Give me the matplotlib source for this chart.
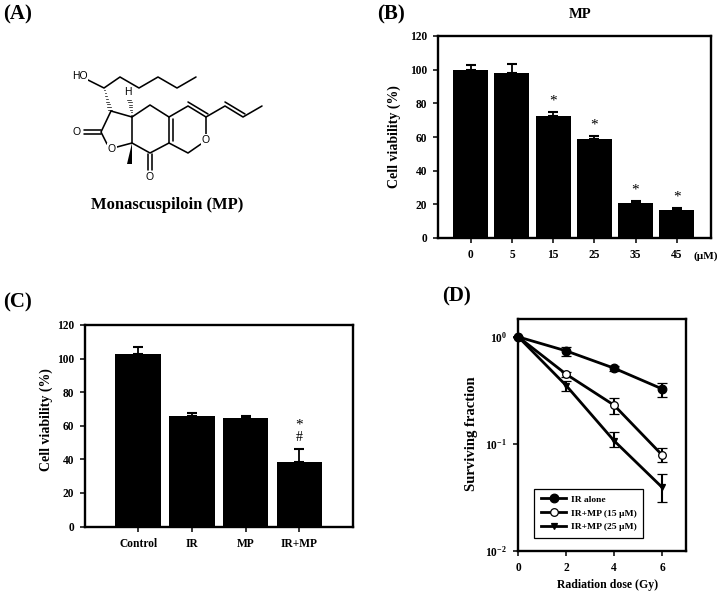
"""Four panel figure: structure of monascuspiloin, two viability bar charts, survival curves."""
import numpy as np
import matplotlib
matplotlib.use("Agg")
import matplotlib.pyplot as plt
from matplotlib.patches import Polygon

W, H = 724, 595

plt.rcParams["font.family"] = ["Liberation Serif", "DejaVu Serif"]
plt.rcParams["font.weight"] = "bold"
plt.rcParams["axes.labelweight"] = "bold"
plt.rcParams["mathtext.fontset"] = "custom"
plt.rcParams["mathtext.rm"] = "Liberation Serif:bold"
plt.rcParams["mathtext.bf"] = "Liberation Serif:bold"
plt.rcParams["mathtext.default"] = "regular"

# panel B
dose_labels = ["0", "5", "15", "25", "35", "45"]
dose_values = [99.8, 98.0, 72.3, 59.0, 20.7, 16.6]
dose_errors = [2.8, 5.4, 2.6, 1.7, 1.0, 1.2]
dose_stars = ["", "", "*", "*", "*", "*"]

# panel C
treat_labels = ["Control", "IR", "MP", "IR+MP"]
treat_values = [102.8, 66.0, 64.7, 38.5]
treat_errors = [4.3, 1.7, 1.3, 7.7]

# panel D
rad_dose = [0, 2, 4, 6]
ir_alone = [1.0, 0.74, 0.51, 0.327]
ir_alone_lo = [1.0, 0.67, 0.48, 0.277]
ir_alone_hi = [1.0, 0.80, 0.54, 0.37]
ir_mp15 = [1.0, 0.448, 0.23, 0.079]
ir_mp15_lo = [1.0, 0.425, 0.19, 0.0674]
ir_mp15_hi = [1.0, 0.47, 0.267, 0.091]
ir_mp25 = [1.0, 0.351, 0.107, 0.0394]
ir_mp25_lo = [1.0, 0.31, 0.0944, 0.0285]
ir_mp25_hi = [1.0, 0.39, 0.128, 0.052]

# structure in panel A, traced in image pixels
skeleton = [
    [(88, 80), (104, 88), (120, 77), (139, 88), (158, 77), (177, 88), (196, 77)],
    [(111, 111), (132, 117), (132, 143), (117, 147)],
    [(111, 111), (101, 132), (107, 144)],
    [(132, 117), (150, 105), (169, 117), (169, 143), (150, 153), (132, 143)],
    [(169, 117), (188, 106), (206, 117), (206, 134)],
    [(201, 144), (188, 153), (169, 143)],
    [(206, 117), (225, 106), (243, 117), (262, 106)],
]
double_bonds = [
    [(101, 130), (84, 130)], [(101, 134), (84, 134)],
    [(148, 154), (148, 170)], [(152, 154), (152, 170)],
    [(173, 119), (173, 141)],
    [(188, 102), (208, 114)],
    [(225, 102), (245, 114)],
]
atom_labels = [(80, 76, "HO"), (128, 92, "H"), (77, 132, "O"), (112, 149, "O"),
               (150, 177, "O"), (206, 140, "O")]
hash_bonds = [((104, 88), (110, 110)), ((132, 117), (129, 97))]
methyl_wedge = [(132, 143), (127, 164), (132, 164)]


def add_axes_px(fig, left, top, right, bottom):
    return fig.add_axes([left / W, 1 - bottom / H, (right - left) / W, (bottom - top) / H])


def style_axes(ax):
    for s in ax.spines.values():
        s.set_linewidth(1.7)
    ax.tick_params(width=1.1, length=3.5, labelsize=8.3, pad=4.5)


def draw_bars(ax, labels, values, errors):
    x = np.arange(len(labels))
    ax.bar(x, values, width=0.85, color="black", zorder=2)
    ax.errorbar(x, values, yerr=[np.zeros(len(errors)), errors], fmt="none", ecolor="black",
                elinewidth=1.3, capsize=3.5, capthick=1.5, zorder=3)
    ax.set_xticks(x)
    ax.set_xticklabels(labels)
    ax.set_ylim(0, 120)
    ax.set_yticks(range(0, 121, 20))
    ax.set_ylabel("Cell viability (%)", fontsize=10)
    style_axes(ax)


fig = plt.figure(figsize=(W / 100, H / 100), dpi=100)

# overlay in image pixels for panel letters and the structure
bg = fig.add_axes([0, 0, 1, 1])
bg.set_xlim(0, W)
bg.set_ylim(H, 0)
bg.axis("off")
for x, y, s in [(3, 14, "(A)"), (377, 14, "(B)"), (3, 302, "(C)"), (442, 296, "(D)")]:
    bg.text(x, y, s, fontsize=15, ha="left", va="center")

for path in skeleton + double_bonds:
    xs, ys = zip(*path)
    bg.plot(xs, ys, color="black", lw=1.15, solid_capstyle="round")
for (x0, y0), (x1, y1) in hash_bonds:
    for t in np.linspace(0.1, 1, 8):
        px, py = x0 + (x1 - x0) * t, y0 + (y1 - y0) * t
        hw = 2.4 * t
        bg.plot([px - hw, px + hw], [py, py], color="black", lw=0.5)
bg.add_patch(Polygon(methyl_wedge, closed=True, color="black", lw=0))
for x, y, s in atom_labels:
    bg.text(x, y, s, fontsize=7.5, family="Liberation Sans", ha="center", va="center",
            fontweight="normal", bbox=dict(fc="white", ec="none", pad=0.4))
bg.text(167.5, 205, "Monascuspiloin (MP)", fontsize=12, ha="center", va="center")

# panel B
axb = add_axes_px(fig, 438, 36, 710.5, 238)
draw_bars(axb, dose_labels, dose_values, dose_errors)
axb.set_xlim(-0.794, 5.82)
axb.yaxis.set_label_coords((400.7 - 438) / 272.5, 0.5)
for i, s in enumerate(dose_stars):
    if s:
        axb.text(i, dose_values[i] + dose_errors[i] + 6.5, s, fontsize=11, ha="center", va="center",
                 fontweight="normal")
bg.text(580, 14, "MP", fontsize=10.5, ha="center", va="center")
bg.text(706, 256, "(\u00b5M)", fontsize=8, ha="center", va="center")

# panel C
axc = add_axes_px(fig, 85, 325, 352.5, 526.5)
draw_bars(axc, treat_labels, treat_values, treat_errors)
axc.set_xlim(-0.993, 3.99)
axc.yaxis.set_label_coords((53 - 85) / 267.5, 0.53)
axc.text(3, 60.4, "*", fontsize=11, ha="center", va="center", fontweight="normal")
axc.text(3, 53.3, "#", fontsize=10, ha="center", va="center", fontweight="normal")

# panel D
axd = add_axes_px(fig, 518.3, 319, 686, 551)
series = [
    (ir_alone, ir_alone_lo, ir_alone_hi, "o", "black", "IR alone", 5, 6.2),
    (ir_mp15, ir_mp15_lo, ir_mp15_hi, "o", "white", "IR+MP (15 \u00b5M)", 4, 5.5),
    (ir_mp25, ir_mp25_lo, ir_mp25_hi, "v", "black", "IR+MP (25 \u00b5M)", 3, 5),
]
for vals, lo, hi, marker, face, label, z, ms in series:
    vals, lo, hi = np.array(vals), np.array(lo), np.array(hi)
    axd.errorbar(rad_dose, vals, yerr=[vals - lo, hi - vals], color="black", lw=2.0, elinewidth=1.5,
                 capsize=3.5, capthick=1.5, marker=marker, ms=ms, mfc=face, mec="black",
                 mew=0.9, label=label, clip_on=False, zorder=z)
axd.set_yscale("log")
axd.set_xlim(0, 7)
axd.set_ylim(0.01, 1.47)
axd.set_xticks(rad_dose)
axd.set_yticks([1, 0.1, 0.01])
axd.set_yticklabels(["$10^{0}$", "$10^{-1}$", "$10^{-2}$"])
axd.minorticks_off()
axd.set_xlabel("Radiation dose (Gy)", fontsize=8.5)
axd.set_ylabel("Surviving fraction", fontsize=10.5)
style_axes(axd)
axd.xaxis.set_label_coords((607.7 - 518.3) / 167.7, -(579 - 551) / 232)
axd.yaxis.set_label_coords((477.7 - 518.3) / 167.7, 0.505)
handles, labels = axd.get_legend_handles_labels()
handles = [h[0] for h in handles]
leg = axd.legend(handles, labels, loc="lower left", bbox_to_anchor=((534.3 - 518.3) / 167.7, (551 - 538) / 232),
                 fontsize=6.8, fancybox=False, framealpha=1, edgecolor="black", handlelength=2.7,
                 borderpad=0.7, labelspacing=0.55, handletextpad=0.5, borderaxespad=0)
leg.get_frame().set_linewidth(0.9)
leg.set_zorder(10)

fig.savefig("out.png", dpi=100)
